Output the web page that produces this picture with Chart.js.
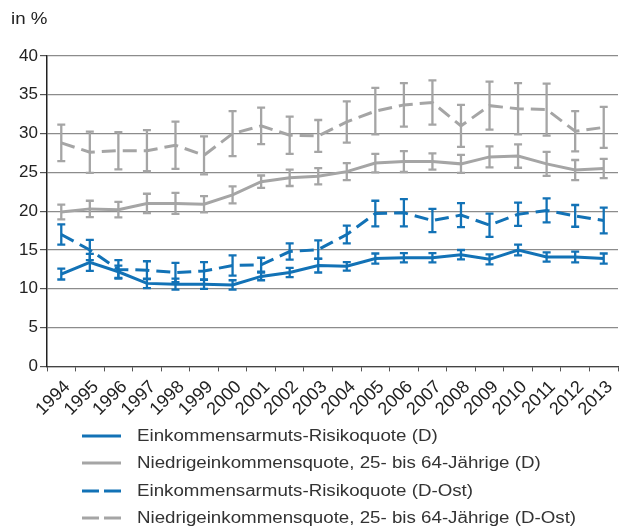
<!DOCTYPE html>
<html>
<head>
<meta charset="utf-8">
<script src="https://cdn.jsdelivr.net/npm/chart.js@4.4.1/dist/chart.umd.min.js"></script>
<style>
  body { margin: 0; background: #fff; font-family: "Liberation Sans", Arial, sans-serif; }
  #wrap { position: relative; width: 624px; height: 528px; overflow: hidden; }
  #unit { position: absolute; left: 11px; top: 10px; font-size: 16px; color: #222;
          transform: scaleX(1.17); transform-origin: left center; }
  #box { position: absolute; left: 0; top: 0; width: 624px; height: 425px; }
  #legend { position: absolute; left: 82px; top: 422px; font-size: 16px; color: #333; }
  .row { height: 27.5px; display: flex; align-items: center; white-space: nowrap; }
  .row svg { width: 39px; height: 4px; margin-right: 16px; flex: none; }
  .row span { display: inline-block; transform: scaleX(1.17); transform-origin: left center; }
</style>
</head>
<body>
<div id="wrap">
  <div id="box"><canvas id="chart"></canvas></div>
  <div id="unit">in %</div>
  <div id="legend"></div>
</div>
<script>
// --- data ---
const years = ["1994","1995","1996","1997","1998","1999","2000","2001","2002","2003",
               "2004","2005","2006","2007","2008","2009","2010","2011","2012","2013"];

const armutD =      [11.9, 13.4, 12.2, 10.7, 10.6, 10.6, 10.5, 11.6, 12.1, 13.0, 12.9, 13.9, 14.0, 14.0, 14.4, 13.8, 15.0, 14.1, 14.1, 13.9];
const armutDErr =   [0.7, 1.1, 0.8, 0.6, 0.7, 0.6, 0.6, 0.5, 0.6, 0.9, 0.55, 0.65, 0.6, 0.6, 0.6, 0.65, 0.7, 0.6, 0.7, 0.65];

const niedrigD =    [19.9, 20.3, 20.2, 21.0, 21.0, 20.9, 22.1, 23.8, 24.3, 24.5, 25.1, 26.2, 26.4, 26.4, 26.1, 27.0, 27.1, 26.1, 25.3, 25.5];
const niedrigDErr = [0.95, 1.05, 1.0, 1.25, 1.35, 1.05, 1.1, 0.8, 1.05, 1.05, 1.1, 1.2, 1.35, 1.05, 1.15, 1.35, 1.5, 1.55, 1.3, 1.25];

const armutOst =    [17.0, 15.0, 12.5, 12.4, 12.1, 12.3, 13.0, 13.1, 14.8, 15.05, 17.0, 19.7, 19.8, 18.8, 19.5, 18.2, 19.6, 20.1, 19.4, 18.8];
const armutOstErr = [1.3, 1.3, 1.2, 1.15, 1.25, 1.15, 1.3, 0.9, 1.05, 1.2, 1.15, 1.65, 1.75, 1.5, 1.55, 1.5, 1.5, 1.55, 1.4, 1.65];

const niedrigOst =    [28.8, 27.6, 27.8, 27.8, 28.5, 27.2, 30.0, 31.0, 29.8, 29.7, 31.5, 32.9, 33.7, 34.0, 31.0, 33.6, 33.2, 33.1, 30.3, 30.8];
const niedrigOstErr = [2.35, 2.65, 2.4, 2.65, 3.05, 2.45, 2.9, 2.35, 2.4, 2.05, 2.65, 3.0, 2.8, 2.85, 2.7, 3.1, 3.3, 3.35, 2.6, 2.65];

const yTicks = [0, 5, 10, 15, 20, 25, 30, 35, 40];

const BLUE = "#1272b6";
const GREY = "#a5a5a5";
const DASH = [14, 7];

const series = [
  { label: "Einkommensarmuts-Risikoquote (D)", data: armutD, errors: armutDErr, color: BLUE, dash: [] },
  { label: "Niedrigeinkommensquote, 25- bis 64-Jährige (D)", data: niedrigD, errors: niedrigDErr, color: GREY, dash: [] },
  { label: "Einkommensarmuts-Risikoquote (D-Ost)", data: armutOst, errors: armutOstErr, color: BLUE, dash: DASH },
  { label: "Niedrigeinkommensquote, 25- bis 64-Jährige (D-Ost)", data: niedrigOst, errors: niedrigOstErr, color: GREY, dash: DASH },
];

// error bars with caps, drawn from the y scale
const errorBars = {
  id: "errorBars",
  afterDatasetsDraw(chart) {
    const ctx = chart.ctx;
    const y = chart.scales.y;
    for (let i = chart.data.datasets.length - 1; i >= 0; i--) {
      const ds = chart.data.datasets[i];
      const meta = chart.getDatasetMeta(i);
      ctx.save();
      ctx.strokeStyle = ds.borderColor;
      ctx.lineWidth = 2.3;
      ctx.setLineDash([]);
      meta.data.forEach((pt, j) => {
        const top = y.getPixelForValue(ds.data[j] + ds.errors[j]);
        const bot = y.getPixelForValue(ds.data[j] - ds.errors[j]);
        ctx.beginPath();
        ctx.moveTo(pt.x, top); ctx.lineTo(pt.x, bot);
        ctx.moveTo(pt.x - 4, top); ctx.lineTo(pt.x + 4, top);
        ctx.moveTo(pt.x - 4, bot); ctx.lineTo(pt.x + 4, bot);
        ctx.stroke();
      });
      ctx.restore();
    }
  }
};

const chart = new Chart(document.getElementById("chart"), {
  type: "line",
  data: {
    labels: years,
    datasets: series.map((s) => ({
      label: s.label,
      data: s.data,
      errors: s.errors,
      borderColor: s.color,
      borderDash: s.dash,
      borderWidth: 3,
      pointRadius: 0,
      tension: 0,
      fill: false,
    })),
  },
  options: {
    responsive: true,
    maintainAspectRatio: false,
    animation: false,
    layout: { padding: { top: 56, right: 0, left: 0, bottom: 0 } },
    plugins: { legend: { display: false }, tooltip: { enabled: false } },
    scales: {
      x: {
        offset: true,
        grid: { offset: true, drawOnChartArea: false, tickLength: 5, tickColor: "#555" },
        border: { color: "#444", width: 1.2 },
        ticks: {
          font: { family: "Liberation Sans", size: 18 },
          color: "#222",
          autoSkip: false,
          minRotation: 45,
          maxRotation: 45,
          padding: 5,
          labelOffset: 6,
        },
      },
      y: {
        min: 0,
        max: 40,
        afterBuildTicks: (s) => { s.ticks = yTicks.map((v) => ({ value: v })); },
        afterFit: (s) => { s.width = 47; },
        grid: { color: "#8c8c8c", lineWidth: 1.2, tickLength: 7, tickColor: "#555" },
        border: { color: "#222", width: 1.5 },
        ticks: {
          font: { family: "Liberation Sans", size: 17 },
          color: "#222",
          padding: 2,
        },
      },
    },
  },
  plugins: [errorBars],
});

// legend as plain rows
const legend = document.getElementById("legend");
series.forEach((s) => {
  const row = document.createElement("div");
  row.className = "row";
  const dash = s.dash.length ? 'stroke-dasharray="17 5"' : "";
  row.innerHTML =
    '<svg viewBox="0 0 39 4"><line x1="0" y1="2" x2="39" y2="2" stroke="' + s.color +
    '" stroke-width="3" ' + dash + '/></svg><span>' + s.label + "</span>";
  legend.appendChild(row);
});
</script>
</body>
</html>
